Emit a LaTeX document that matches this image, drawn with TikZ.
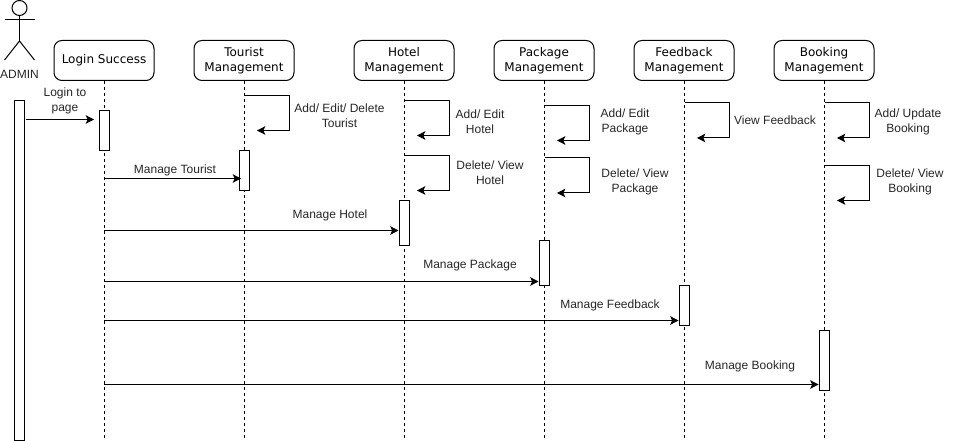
\documentclass[tikz,border=0pt]{standalone}
\usepackage{fontspec}
\setmainfont{Liberation Sans}
\newfontfamily\boxfont{DejaVu Sans}
\usetikzlibrary{arrows.meta}
\tikzset{
  x=0.75pt,y=-0.75pt,
  every path/.style={line width=0.75pt},
  lifebox/.style={draw,rounded corners=6pt,minimum width=75pt,minimum height=30pt,inner sep=0pt,align=center,font=\boxfont\fontsize{9pt}{11.25pt}\selectfont,fill=white},
  actbar/.style={draw,fill=white,minimum width=7.5pt,inner sep=0pt},
  lifeline/.style={dash pattern=on 2.25pt off 2.25pt},
  msg/.style={-{Stealth[length=6.2pt,width=6.4pt,inset=1.4pt]}},
  lbl/.style={align=center,inner sep=0pt,font=\fontsize{9pt}{11.25pt}\selectfont,text=black!85},
}
\begin{document}
\begin{tikzpicture}
\useasboundingbox (0,0) rectangle (956,441);
\coordinate (bot) at (0,439);
% actor
\node[draw,circle,minimum size=11.25pt,inner sep=0pt] (head) at (19.5,8) {};
\coordinate (neck) at (19.5,41);
\coordinate (armL) at (4.5,20);
\coordinate (armR) at (34.5,20);
\coordinate (legL) at (4.5,60);
\coordinate (legR) at (34.5,60);
\draw (head.south) -- (neck);
\draw (armL) -- (armR);
\draw (legL) -- (neck) -- (legR);
\node[lbl] (admin) at (19.5,74) {ADMIN};
% lifeline heads
\node[lifebox] (login) at (104,60.5) {Login Success};
\node[lifebox] (tourist) at (244,60.5) {Tourist\\Management};
\node[lifebox] (hotel) at (404,60.5) {Hotel\\Management};
\node[lifebox] (package) at (544,60.5) {Package\\Management};
\node[lifebox] (feedback) at (684,60.5) {Feedback\\Management};
\node[lifebox] (booking) at (824,60.5) {Booking\\Management};
\foreach \n in {login,tourist,hotel,package,feedback,booking}
  \draw[lifeline] (\n.south) -- (\n.south |- bot);
% activation bars
\node[actbar,minimum height=255pt] (adminbar) at (19,270.5) {};
\node[actbar,minimum height=30pt] (aLogin) at (104,130.5) {};
\node[actbar,minimum height=30pt] (aTourist) at (244,170.5) {};
\node[actbar,minimum height=33.75pt] (aHotel) at (404,223) {};
\node[actbar,minimum height=33.75pt] (aPackage) at (544,263) {};
\node[actbar,minimum height=30pt] (aFeedback) at (684,305.5) {};
\node[actbar,minimum height=45pt] (aBooking) at (824,360.5) {};
% messages
\coordinate (m0s) at (26,119.5); \coordinate (m0e) at (94,119.5);
\coordinate (m1s) at (104,178.5); \coordinate (m1e) at (241,178.5);
\coordinate (m2s) at (104,230.5); \coordinate (m2e) at (aHotel.west |- m2s);
\coordinate (m3s) at (104,281.5); \coordinate (m3e) at (aPackage.west |- m3s);
\coordinate (m4s) at (104,320.5); \coordinate (m4e) at (aFeedback.west |- m4s);
\coordinate (m5s) at (104,384.5); \coordinate (m5e) at (aBooking.west |- m5s);
\draw[msg] (m0s) -- (m0e);
\draw[msg] (m1s) -- (m1e);
\draw[msg] (m2s) -- (m2e);
\draw[msg] (m3s) -- (m3e);
\draw[msg] (m4s) -- (m4e);
\draw[msg] (m5s) -- (m5e);
% self messages
\coordinate (s1a) at (245,95.5); \coordinate (s1b) at (257,130.5);
\coordinate (s2a) at (405,100.5); \coordinate (s2b) at (417,135.5);
\coordinate (s3a) at (405,155.5); \coordinate (s3b) at (417,190.5);
\coordinate (s4a) at (545,105.5); \coordinate (s4b) at (557,140.5);
\coordinate (s5a) at (545,158); \coordinate (s5b) at (557,193);
\coordinate (s6a) at (685,103); \coordinate (s6b) at (697,138);
\coordinate (s7a) at (825,103); \coordinate (s7b) at (837,138);
\coordinate (s8a) at (825,165.5); \coordinate (s8b) at (837,200.5);
\foreach \i in {1,...,8}
  \draw[msg] (s\i a) -- ++(44.5,0) |- (s\i b);
% labels
\node[lbl] (t0) at (65,100.5) {Login to\\page};
\node[lbl] (t1) at (175,170.5) {Manage Tourist};
\node[lbl] (t2) at (330,215.5) {Manage Hotel};
\node[lbl] (t3) at (470,265.5) {Manage Package};
\node[lbl] (t4) at (610,305.5) {Manage Feedback};
\node[lbl] (t5) at (750,366) {Manage Booking};
\node[lbl] (u1) at (339.5,115.5) {Add/ Edit/ Delete\\Tourist};
\node[lbl] (u2) at (480,121.5) {Add/ Edit\\Hotel};
\node[lbl] (u3) at (490,172.5) {Delete/ View\\Hotel};
\node[lbl] (u4) at (625,121.5) {Add/ Edit\\Package};
\node[lbl] (u5) at (635,181.5) {Delete/ View\\Package};
\node[lbl] (u6) at (775,120) {View Feedback};
\node[lbl] (u7) at (908,121.5) {Add/ Update\\Booking};
\node[lbl] (u8) at (910,181.5) {Delete/ View\\Booking};
\end{tikzpicture}
\end{document}
